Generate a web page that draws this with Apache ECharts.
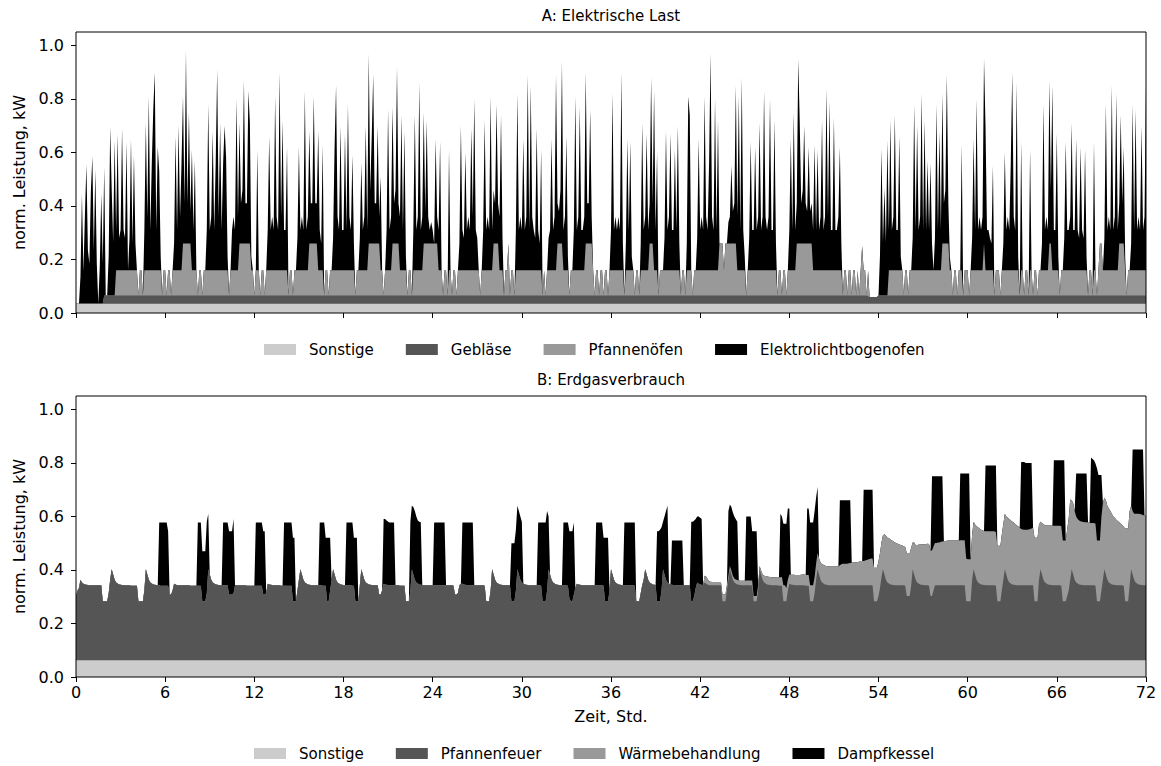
<!DOCTYPE html>
<html>
<head>
<meta charset="utf-8">
<title>Elektrische Last und Erdgasverbrauch</title>
<script src="https://cdn.jsdelivr.net/npm/echarts@6.0.0/dist/echarts.min.js"></script>
<style>
  html, body { margin: 0; padding: 0; background: #fff; }
  #chart { width: 1161px; height: 766px; }
</style>
</head>
<body>
<div id="chart"></div>
<script>
// Zeitraster: 0 bis 72 Std., Schrittweite 0,1 Std. (eine Zeile = eine Stunde)
var dt = 0.1
var xTicks = [0, 6, 12, 18, 24, 30, 36, 42, 48, 54, 60, 66, 72]
var yTicks = [0, 0.2, 0.4, 0.6, 0.8, 1.0]

// ---- A: Elektrische Last (Anteile, norm. kW) ----
var sonstigeA = 0.035
var geblaeseA = [
0,0,0,0,0,0,0,0,0,0,
0,0,0,0,0,0,0,0,0,0.03,
0.03,0.03,0.03,0.03,0.03,0.03,0.03,0.03,0.03,0.03,
0.03,0.03,0.03,0.03,0.03,0.03,0.03,0.03,0.03,0.03,
0.03,0.03,0.03,0.03,0.03,0.03,0.03,0.03,0.03,0.03,
0.03,0.03,0.03,0.03,0.03,0.03,0.03,0.03,0.03,0.03,
0.03,0.03,0.03,0.03,0.03,0.03,0.03,0.03,0.03,0.03,
0.03,0.03,0.03,0.03,0.03,0.03,0.03,0.03,0.03,0.03,
0.03,0.03,0.03,0.03,0.03,0.03,0.03,0.03,0.03,0.03,
0.03,0.03,0.03,0.03,0.03,0.03,0.03,0.03,0.03,0.03,
0.03,0.03,0.03,0.03,0.03,0.03,0.03,0.03,0.03,0.03,
0.03,0.03,0.03,0.03,0.03,0.03,0.03,0.03,0.03,0.03,
0.03,0.03,0.03,0.03,0.03,0.03,0.03,0.03,0.03,0.03,
0.03,0.03,0.03,0.03,0.03,0.03,0.03,0.03,0.03,0.03,
0.03,0.03,0.03,0.03,0.03,0.03,0.03,0.03,0.03,0.03,
0.03,0.03,0.03,0.03,0.03,0.03,0.03,0.03,0.03,0.03,
0.03,0.03,0.03,0.03,0.03,0.03,0.03,0.03,0.03,0.03,
0.03,0.03,0.03,0.03,0.03,0.03,0.03,0.03,0.03,0.03,
0.03,0.03,0.03,0.03,0.03,0.03,0.03,0.03,0.03,0.03,
0.03,0.03,0.03,0.03,0.03,0.03,0.03,0.03,0.03,0.03,
0.03,0.03,0.03,0.03,0.03,0.03,0.03,0.03,0.03,0.03,
0.03,0.03,0.03,0.03,0.03,0.03,0.03,0.03,0.03,0.03,
0.03,0.03,0.03,0.03,0.03,0.03,0.03,0.03,0.03,0.03,
0.03,0.03,0.03,0.03,0.03,0.03,0.03,0.03,0.03,0.03,
0.03,0.03,0.03,0.03,0.03,0.03,0.03,0.03,0.03,0.03,
0.03,0.03,0.03,0.03,0.03,0.03,0.03,0.03,0.03,0.03,
0.03,0.03,0.03,0.03,0.03,0.03,0.03,0.03,0.03,0.03,
0.03,0.03,0.03,0.03,0.03,0.03,0.03,0.03,0.03,0.03,
0.03,0.03,0.03,0.03,0.03,0.03,0.03,0.03,0.03,0.03,
0.03,0.03,0.03,0.03,0.03,0.03,0.03,0.03,0.03,0.03,
0.03,0.03,0.03,0.03,0.03,0.03,0.03,0.03,0.03,0.03,
0.03,0.03,0.03,0.03,0.03,0.03,0.03,0.03,0.03,0.03,
0.03,0.03,0.03,0.03,0.03,0.03,0.03,0.03,0.03,0.03,
0.03,0.03,0.03,0.03,0.03,0.03,0.03,0.03,0.03,0.03,
0.03,0.03,0.03,0.03,0.03,0.03,0.03,0.03,0.03,0.03,
0.03,0.03,0.03,0.03,0.03,0.03,0.03,0.03,0.03,0.03,
0.03,0.03,0.03,0.03,0.03,0.03,0.03,0.03,0.03,0.03,
0.03,0.03,0.03,0.03,0.03,0.03,0.03,0.03,0.03,0.03,
0.03,0.03,0.03,0.03,0.03,0.03,0.03,0.03,0.03,0.03,
0.03,0.03,0.03,0.03,0.03,0.03,0.03,0.03,0.03,0.03,
0.03,0.03,0.03,0.03,0.03,0.03,0.03,0.03,0.03,0.03,
0.03,0.03,0.03,0.03,0.03,0.03,0.03,0.03,0.03,0.03,
0.03,0.03,0.03,0.03,0.03,0.03,0.03,0.03,0.03,0.03,
0.03,0.03,0.03,0.03,0.03,0.03,0.03,0.03,0.03,0.03,
0.03,0.03,0.03,0.03,0.03,0.03,0.03,0.03,0.03,0.03,
0.03,0.03,0.03,0.03,0.03,0.03,0.03,0.03,0.03,0.03,
0.03,0.03,0.03,0.03,0.03,0.03,0.03,0.03,0.03,0.03,
0.03,0.03,0.03,0.03,0.03,0.03,0.03,0.03,0.03,0.03,
0.03,0.03,0.03,0.03,0.03,0.03,0.03,0.03,0.03,0.03,
0.03,0.03,0.03,0.03,0.03,0.03,0.03,0.03,0.03,0.03,
0.03,0.03,0.03,0.03,0.03,0.03,0.03,0.03,0.03,0.03,
0.03,0.03,0.03,0.03,0.03,0.03,0.03,0.03,0.03,0.03,
0.03,0.03,0.03,0.03,0.03,0.03,0.03,0.03,0.03,0.03,
0.03,0.03,0.03,0.028,0.025,0.025,0.025,0.025,0.025,0.025,
0.03,0.03,0.03,0.03,0.03,0.03,0.03,0.03,0.03,0.03,
0.03,0.03,0.03,0.03,0.03,0.03,0.03,0.03,0.03,0.03,
0.03,0.03,0.03,0.03,0.03,0.03,0.03,0.03,0.03,0.03,
0.03,0.03,0.03,0.03,0.03,0.03,0.03,0.03,0.03,0.03,
0.03,0.03,0.03,0.03,0.03,0.03,0.03,0.03,0.03,0.03,
0.03,0.03,0.03,0.03,0.03,0.03,0.03,0.03,0.03,0.03,
0.03,0.03,0.03,0.03,0.03,0.03,0.03,0.03,0.03,0.03,
0.03,0.03,0.03,0.03,0.03,0.03,0.03,0.03,0.03,0.03,
0.03,0.03,0.03,0.03,0.03,0.03,0.03,0.03,0.03,0.03,
0.03,0.03,0.03,0.03,0.03,0.03,0.03,0.03,0.03,0.03,
0.03,0.03,0.03,0.03,0.03,0.03,0.03,0.03,0.03,0.03,
0.03,0.03,0.03,0.03,0.03,0.03,0.03,0.03,0.03,0.03,
0.03,0.03,0.03,0.03,0.03,0.03,0.03,0.03,0.03,0.03,
0.03,0.03,0.03,0.03,0.03,0.03,0.03,0.03,0.03,0.03,
0.03,0.03,0.03,0.03,0.03,0.03,0.03,0.03,0.03,0.03,
0.03,0.03,0.03,0.03,0.03,0.03,0.03,0.03,0.03,0.03,
0.03,0.03,0.03,0.03,0.03,0.03,0.03,0.03,0.03,0.03,
0.03,0.03,0.03,0.03,0.03,0.03,0.03,0.03,0.03,0.03,
0.03
]
var pfannenofenA = [
0,0,0,0,0,0,0,0,0,0,
0,0,0,0,0,0,0,0,0,0,
0,0,0,0,0,0,0,0.095,0.095,0.095,
0.095,0.095,0.095,0.095,0.095,0.095,0.095,0.095,0.095,0.095,
0.095,0.095,0,0.095,0.095,0,0.095,0.095,0.095,0.095,
0.095,0.095,0.095,0.095,0.095,0.095,0.095,0.095,0,0.095,
0.095,0,0.095,0.095,0,0.095,0.095,0.095,0.095,0.095,
0.095,0.095,0.195,0.195,0.195,0.195,0.195,0.195,0.095,0.095,
0.095,0.095,0,0.095,0.095,0,0.095,0.095,0.095,0.095,
0.095,0.095,0.095,0.095,0.095,0.095,0.095,0.095,0.095,0.095,
0.095,0.095,0.095,0,0.095,0.095,0.095,0.095,0.095,0.095,
0.195,0.195,0.195,0.195,0.195,0.195,0.195,0.195,0.095,0.095,
0,0.095,0.095,0.095,0,0.095,0.095,0,0.095,0.095,
0.095,0.095,0.095,0.095,0.095,0.095,0.095,0.095,0.095,0.095,
0.095,0.095,0.095,0,0.095,0.095,0,0.095,0.095,0.095,
0.095,0.095,0.095,0.095,0.095,0.095,0.095,0.195,0.195,0.195,
0.195,0.195,0.195,0.095,0.095,0.095,0.095,0,0.095,0.095,
0,0.095,0.095,0.095,0.095,0.095,0.095,0.095,0.095,0.095,
0.095,0.095,0.095,0.095,0.095,0.095,0.095,0.095,0,0.095,
0.095,0.095,0.095,0.095,0.095,0.095,0.095,0.195,0.195,0.195,
0.195,0.195,0.195,0.195,0.195,0.095,0.095,0,0.095,0.095,
0.095,0.095,0.095,0.195,0.195,0.195,0.195,0.195,0.095,0.095,
0.095,0.095,0.095,0,0.095,0.095,0,0.095,0.095,0.095,
0.095,0.095,0.095,0.095,0.195,0.195,0.195,0.195,0.195,0.195,
0.195,0.195,0.195,0.195,0.095,0.095,0.095,0,0.095,0.095,
0,0.095,0.095,0,0.095,0.095,0,0.095,0.095,0.095,
0.095,0.095,0.095,0.095,0.095,0.095,0.095,0.095,0.095,0.095,
0.095,0.095,0,0.095,0.095,0.095,0.095,0.095,0.095,0.095,
0.095,0.195,0.195,0.195,0.195,0.095,0.095,0.095,0,0.095,
0.095,0.195,0,0.095,0.095,0,0.095,0.095,0.095,0.095,
0.095,0.095,0.095,0.095,0.095,0.095,0.095,0.095,0.095,0.095,
0.095,0.095,0.095,0.095,0,0.095,0,0.095,0.095,0.095,
0.095,0.095,0.095,0.095,0.195,0.195,0.195,0.195,0.095,0.095,
0.095,0.095,0,0.095,0.095,0.095,0.095,0.095,0.095,0.095,
0.095,0.095,0.095,0.195,0.195,0.195,0.195,0.195,0.095,0,
0.095,0.095,0,0.095,0.095,0,0.095,0.095,0,0.095,
0.095,0.095,0.095,0.095,0.095,0.095,0.095,0.095,0.095,0,
0.095,0.095,0.095,0.095,0.095,0.095,0,0.095,0.095,0,
0.095,0.095,0.095,0.095,0.095,0.095,0.195,0.195,0.195,0.095,
0.095,0.095,0,0.095,0.095,0.095,0.095,0.095,0.095,0.095,
0.095,0.095,0.095,0.095,0.095,0.095,0.095,0,0.095,0.095,
0,0.095,0.095,0.095,0.095,0,0.095,0.095,0.095,0.095,
0.095,0.095,0.095,0.095,0.095,0.095,0.095,0.095,0.095,0.095,
0.095,0.095,0.095,0.195,0.195,0.195,0.095,0.195,0.195,0.195,
0.195,0.195,0.195,0.195,0.195,0.095,0.095,0.095,0.095,0.095,
0.095,0,0.095,0.095,0.095,0.095,0.095,0.095,0.095,0.095,
0.095,0.095,0.095,0.095,0.095,0.095,0.095,0.095,0.095,0.095,
0.095,0.095,0,0.095,0.095,0,0.095,0.095,0,0.095,
0.095,0.095,0.095,0.095,0.095,0.195,0.195,0.195,0.195,0.195,
0.195,0.195,0.195,0.195,0.195,0.195,0.095,0.095,0.095,0.095,
0.095,0.095,0.095,0.095,0.095,0.095,0.095,0.095,0.095,0.095,
0.095,0.095,0.095,0.095,0.095,0.095,0,0.095,0.095,0,
0.095,0.095,0,0.095,0.095,0,0.095,0,0.095,0.185,
0.095,0.095,0,0.095,0,0,0,0,0,0,
0,0,0,0,0,0,0,0.095,0.095,0.095,
0.095,0.095,0.095,0.095,0.095,0.095,0.095,0,0.095,0.095,
0,0.095,0.095,0.095,0.095,0.095,0.095,0.095,0.095,0.095,
0.095,0.095,0.095,0.095,0.095,0.095,0.095,0.095,0.095,0.095,
0.095,0.095,0.095,0.195,0.195,0.195,0.195,0.195,0.095,0.095,
0,0.095,0.095,0,0.095,0.095,0.095,0,0.095,0.095,
0.095,0,0.095,0.095,0.095,0.095,0.095,0.095,0.095,0.095,
0.095,0.195,0.095,0.095,0.095,0.095,0.095,0.095,0,0.095,
0.095,0.095,0,0.095,0.095,0.095,0.095,0.095,0.095,0.095,
0.095,0.095,0.095,0.095,0.095,0,0.095,0.095,0,0.095,
0.095,0,0.095,0.095,0,0.095,0.095,0,0.095,0.095,
0.095,0.095,0.095,0.095,0.095,0.195,0.195,0.095,0.095,0.095,
0.095,0.095,0,0.095,0.095,0.095,0.095,0.095,0.095,0.095,
0.095,0.095,0.095,0.095,0.095,0.095,0.095,0.095,0.095,0.095,
0.095,0,0.095,0.095,0,0.095,0.095,0,0.095,0.195,
0.195,0.095,0.095,0.095,0.095,0.095,0.095,0.095,0.095,0.095,
0.095,0.095,0.195,0.195,0.195,0.195,0.095,0,0.095,0.095,
0.095,0.095,0.095,0.095,0.095,0.095,0.095,0.095,0.095,0.095,
0.095
]
var lichtbogenofenA = [
0,0,0,0.1,0.41,0.12,0.33,0.52,0.2,0.15,
0.42,0.55,0.2,0.5,0.15,0,0.14,0.41,0.15,0.48,
0,0,0.15,0.63,0.4,0.2,0.58,0.15,0.51,0.12,
0.15,0.53,0.15,0.12,0.48,0,0.12,0.49,0.1,0.43,
0.1,0,0,0,0,0,0.15,0.55,0.2,0.65,
0.15,0.4,0.6,0.74,0.15,0.46,0.37,0.05,0,0,
0,0,0,0,0,0,0.1,0.5,0.15,0.54,
0.2,0.4,0.55,0.15,0.72,0.15,0.49,0.12,0.45,0.15,
0.41,0,0,0,0,0,0,0,0.15,0.62,
0.15,0.2,0.52,0.15,0.4,0.75,0.2,0.55,0.15,0.4,
0.54,0.42,0.05,0,0,0.15,0.2,0.15,0.64,0.2,
0.45,0.15,0.2,0.61,0.15,0.15,0.57,0.45,0.05,0,
0,0,0.45,0,0,0,0,0,0,0.15,
0.5,0.15,0.2,0.15,0.65,0.2,0.15,0.74,0.2,0.56,
0.15,0.15,0.46,0,0,0,0,0,0,0.12,
0.46,0.15,0.2,0.15,0.67,0.15,0.2,0.42,0.15,0.15,
0.55,0.15,0.15,0.52,0.15,0.1,0.47,0,0,0,
0,0,0,0.12,0.46,0.69,0.2,0.15,0.54,0.15,
0.15,0.51,0.15,0.62,0.2,0.15,0.43,0.1,0,0,
0,0.12,0.4,0.15,0.2,0.54,0.15,0.71,0.2,0.4,
0.63,0.15,0.15,0.44,0.1,0.35,0,0,0,0.15,
0.6,0.15,0.2,0.51,0.15,0.2,0.66,0.15,0.2,0.58,
0.15,0.52,0.05,0,0,0,0,0.15,0.58,0.15,
0.2,0.7,0.15,0.2,0.49,0.12,0.46,0.1,0.05,0.08,
0.05,0,0.39,0.1,0.15,0.48,0,0,0,0,
0,0.45,0,0,0,0,0,0,0.1,0.54,
0.15,0.12,0.44,0.15,0.2,0.15,0.53,0.2,0.64,0.15,
0.12,0,0,0,0.15,0.56,0.15,0.2,0.15,0.65,
0.15,0.2,0.15,0.52,0.15,0.2,0.58,0.12,0,0,
0,0,0,0,0,0,0.15,0.66,0.15,0.2,
0.15,0.49,0.15,0.2,0.73,0.15,0.69,0.2,0.15,0.12,
0.53,0.15,0.1,0.45,0,0,0,0,0.12,0.15,
0.49,0.15,0.2,0.73,0.15,0.12,0.2,0.68,0.15,0.2,
0.5,0.05,0,0,0,0.15,0.65,0.15,0.2,0.61,
0.15,0.15,0.2,0.64,0.15,0.15,0.5,0.1,0,0,
0,0,0,0,0,0,0,0,0,0,
0.15,0.66,0.15,0.2,0.15,0.2,0.15,0.74,0.1,0,
0.1,0.49,0.15,0.48,0.05,0,0,0,0,0,
0.1,0.55,0.15,0.2,0.51,0.15,0.15,0.62,0.15,0.67,
0.15,0.44,0,0,0,0,0.12,0.52,0.15,0.2,
0.51,0.15,0.15,0.45,0.15,0.54,0.1,0,0,0,
0,0.1,0.65,0.58,0,0,0,0,0.12,0.49,
0.15,0.2,0.15,0.65,0.2,0.15,0.4,0.81,0.2,0.15,
0.64,0.15,0.56,0,0,0,0,0,0,0.08,
0.1,0.29,0.12,0.15,0.59,0.2,0.65,0.15,0.72,0.15,
0.05,0,0,0.12,0.48,0.15,0.15,0.46,0.15,0.2,
0.55,0.15,0.2,0.67,0.2,0.15,0.2,0.64,0.15,0.15,
0.56,0.1,0,0,0,0,0,0,0,0,
0.15,0.49,0.15,0.59,0.15,0.15,0.69,0.45,0.15,0.2,
0.44,0.15,0.12,0.36,0.12,0.15,0.15,0.47,0.15,0.45,
0.15,0.2,0.56,0.15,0.2,0.68,0.2,0.63,0.15,0.15,
0.57,0.15,0.15,0.2,0.46,0.1,0,0,0,0,
0,0,0,0,0,0,0,0,0,0,
0,0,0,0,0,0,0,0,0,0,
0,0.15,0.55,0.2,0.4,0.2,0.58,0.15,0.56,0.15,
0.2,0.58,0.15,0.15,0.5,0.05,0,0,0,0,
0,0,0,0.12,0.62,0.15,0.54,0.15,0.2,0.66,
0.15,0.56,0.15,0.41,0.15,0.4,0.1,0,0.12,0.62,
0.15,0.52,0.15,0.56,0.15,0.2,0.63,0.15,0.05,0,
0,0,0,0,0,0,0.47,0,0,0,
0,0,0,0.12,0.49,0.15,0.64,0.15,0.2,0.15,
0.2,0.69,0.54,0.15,0.15,0.12,0.1,0.39,0,0,
0,0,0,0,0.1,0.44,0.15,0.2,0.15,0.4,
0.74,0.2,0.15,0.7,0.05,0,0.48,0,0,0,
0,0,0.45,0,0,0,0,0,0,0,
0.1,0.62,0.15,0.2,0.15,0.61,0.2,0.69,0.15,0.15,
0.51,0.05,0,0,0,0.12,0.48,0.15,0.15,0.2,
0.55,0.15,0.15,0.49,0.15,0.12,0.46,0.15,0.12,0.45,
0.05,0,0,0,0,0.48,0,0,0,0,
0,0,0.12,0.62,0.15,0.2,0.15,0.69,0.15,0.2,
0.66,0.15,0.15,0.48,0.15,0.36,0.05,0,0,0,
0.1,0.62,0.15,0.6,0.15,0.2,0.15,0.54,0.15,0.2,
0.69
]

// ---- B: Erdgasverbrauch (Anteile, norm. kW) ----
var sonstigeB = 0.063
var pfannenfeuerB = [
0.24,0.26,0.27,0.3,0.29,0.285,0.283,0.282,0.281,0.28,
0.28,0.28,0.28,0.28,0.28,0.28,0.28,0.28,0.22,0.22,
0.22,0.22,0.25,0.3,0.34,0.32,0.3,0.29,0.286,0.283,
0.282,0.281,0.28,0.28,0.28,0.28,0.28,0.278,0.278,0.278,
0.278,0.278,0.22,0.22,0.22,0.22,0.26,0.34,0.32,0.3,
0.29,0.286,0.283,0.282,0.281,0.28,0.28,0.278,0.278,0.278,
0.278,0.278,0.278,0.245,0.245,0.26,0.285,0.283,0.28,0.28,
0.28,0.28,0.28,0.28,0.28,0.28,0.28,0.278,0.278,0.278,
0.278,0.278,0.278,0.278,0.278,0.22,0.22,0.22,0.25,0.34,
0.32,0.3,0.29,0.286,0.283,0.282,0.281,0.28,0.28,0.28,
0.28,0.28,0.28,0.245,0.245,0.245,0.25,0.28,0.28,0.28,
0.28,0.28,0.28,0.28,0.28,0.278,0.278,0.278,0.278,0.278,
0.278,0.278,0.278,0.278,0.278,0.278,0.245,0.245,0.25,0.285,
0.283,0.282,0.281,0.28,0.28,0.28,0.28,0.28,0.278,0.278,
0.278,0.278,0.278,0.278,0.278,0.278,0.22,0.22,0.22,0.26,
0.3,0.34,0.32,0.3,0.29,0.286,0.283,0.282,0.281,0.28,
0.28,0.28,0.28,0.28,0.28,0.28,0.278,0.278,0.278,0.22,
0.22,0.26,0.3,0.34,0.32,0.3,0.29,0.286,0.283,0.282,
0.281,0.28,0.28,0.28,0.28,0.28,0.278,0.278,0.22,0.22,
0.22,0.28,0.34,0.32,0.3,0.29,0.286,0.283,0.282,0.281,
0.28,0.28,0.28,0.28,0.245,0.245,0.26,0.285,0.283,0.282,
0.281,0.28,0.28,0.28,0.28,0.28,0.28,0.28,0.278,0.278,
0.278,0.278,0.22,0.22,0.22,0.26,0.34,0.32,0.3,0.29,
0.286,0.283,0.282,0.281,0.28,0.28,0.28,0.28,0.28,0.28,
0.28,0.28,0.28,0.28,0.28,0.28,0.28,0.28,0.28,0.28,
0.28,0.28,0.28,0.28,0.278,0.245,0.245,0.25,0.28,0.285,
0.285,0.283,0.282,0.28,0.28,0.28,0.28,0.28,0.28,0.28,
0.28,0.28,0.28,0.28,0.28,0.278,0.22,0.22,0.22,0.26,
0.34,0.32,0.3,0.29,0.286,0.283,0.282,0.281,0.28,0.28,
0.28,0.28,0.28,0.22,0.22,0.22,0.26,0.34,0.32,0.3,
0.29,0.286,0.283,0.282,0.281,0.28,0.28,0.28,0.28,0.28,
0.28,0.28,0.28,0.278,0.22,0.22,0.22,0.26,0.34,0.32,
0.3,0.29,0.286,0.283,0.282,0.281,0.28,0.28,0.28,0.28,
0.28,0.278,0.23,0.22,0.22,0.245,0.27,0.285,0.283,0.282,
0.281,0.28,0.28,0.28,0.28,0.28,0.28,0.28,0.28,0.28,
0.28,0.28,0.28,0.28,0.28,0.278,0.22,0.22,0.22,0.26,
0.34,0.32,0.3,0.29,0.286,0.283,0.282,0.281,0.28,0.28,
0.28,0.28,0.28,0.28,0.28,0.28,0.278,0.22,0.22,0.22,
0.25,0.28,0.3,0.34,0.32,0.3,0.29,0.286,0.283,0.282,
0.281,0.22,0.22,0.22,0.26,0.34,0.32,0.3,0.29,0.286,
0.283,0.282,0.281,0.28,0.28,0.28,0.28,0.28,0.28,0.28,
0.28,0.28,0.28,0.28,0.22,0.22,0.24,0.27,0.29,0.285,
0.283,0.282,0.281,0.29,0.285,0.283,0.28,0.28,0.28,0.28,
0.28,0.28,0.28,0.28,0.28,0.22,0.22,0.22,0.26,0.3,
0.34,0.32,0.3,0.29,0.286,0.283,0.282,0.281,0.28,0.28,
0.28,0.28,0.28,0.28,0.28,0.278,0.22,0.22,0.22,0.26,
0.34,0.32,0.3,0.29,0.286,0.283,0.282,0.281,0.28,0.28,
0.28,0.28,0.28,0.278,0.278,0.278,0.22,0.22,0.22,0.26,
0.285,0.283,0.282,0.281,0.28,0.28,0.28,0.28,0.28,0.28,
0.28,0.278,0.278,0.278,0.22,0.22,0.22,0.25,0.3,0.34,
0.32,0.3,0.29,0.286,0.283,0.282,0.281,0.28,0.28,0.28,
0.28,0.28,0.28,0.28,0.28,0.28,0.28,0.28,0.28,0.28,
0.28,0.28,0.28,0.28,0.28,0.28,0.28,0.28,0.28,0.28,
0.28,0.28,0.28,0.28,0.28,0.28,0.28,0.22,0.22,0.22,
0.24,0.27,0.31,0.34,0.32,0.3,0.29,0.286,0.283,0.282,
0.281,0.28,0.28,0.28,0.28,0.28,0.28,0.28,0.278,0.24,
0.24,0.24,0.28,0.34,0.32,0.3,0.29,0.286,0.283,0.282,
0.281,0.28,0.28,0.28,0.278,0.24,0.24,0.26,0.28,0.28,
0.28,0.28,0.28,0.28,0.28,0.28,0.28,0.28,0.28,0.28,
0.28,0.28,0.28,0.28,0.28,0.28,0.28,0.28,0.28,0.22,
0.22,0.22,0.22,0.3,0.34,0.32,0.3,0.29,0.286,0.283,
0.282,0.281,0.28,0.28,0.28,0.28,0.28,0.28,0.28,0.278,
0.22,0.22,0.22,0.26,0.3,0.34,0.32,0.3,0.29,0.286,
0.283,0.282,0.281,0.28,0.28,0.28,0.28,0.28,0.28,0.28,
0.28,0.28,0.28,0.28,0.28,0.22,0.22,0.22,0.3,0.34,
0.32,0.3,0.29,0.286,0.283,0.282,0.281,0.28,0.28,0.28,
0.28,0.28,0.28,0.278,0.22,0.22,0.22,0.24,0.26,0.3,
0.34,0.32,0.3,0.29,0.286,0.283,0.282,0.281,0.28,0.28,
0.28,0.28,0.28,0.28,0.28,0.28,0.278,0.22,0.22,0.22,
0.26,0.3,0.34,0.32,0.3,0.29,0.286,0.283,0.282,0.281,
0.28,0.28,0.28,0.28,0.28,0.278,0.22,0.22,0.22,0.28,
0.34,0.32,0.3,0.29,0.286,0.283,0.282,0.281,0.28,0.28,
0.28
]
var waermebehandlungB = [
0,0,0,0,0,0,0,0,0,0,
0,0,0,0,0,0,0,0,0,0,
0,0,0,0,0,0,0,0,0,0,
0,0,0,0,0,0,0,0,0,0,
0,0,0,0,0,0,0,0,0,0,
0,0,0,0,0,0,0,0,0,0,
0,0,0,0,0,0,0,0,0,0,
0,0,0,0,0,0,0,0,0,0,
0,0,0,0,0,0,0,0,0,0,
0,0,0,0,0,0,0,0,0,0,
0,0,0,0,0,0,0,0,0,0,
0,0,0,0,0,0,0,0,0,0,
0,0,0,0,0,0,0,0,0,0,
0,0,0,0,0,0,0,0,0,0,
0,0,0,0,0,0,0,0,0,0,
0,0,0,0,0,0,0,0,0,0,
0,0,0,0,0,0,0,0,0,0,
0,0,0,0,0,0,0,0,0,0,
0,0,0,0,0,0,0,0,0,0,
0,0,0,0,0,0,0,0,0,0,
0,0,0,0,0,0,0,0,0,0,
0,0,0,0,0,0,0,0,0,0,
0,0,0,0,0,0,0,0,0,0,
0,0,0,0,0,0,0,0,0,0,
0,0,0,0,0,0,0,0,0,0,
0,0,0,0,0,0,0,0,0,0,
0,0,0,0,0,0,0,0,0,0,
0,0,0,0,0,0,0,0,0,0,
0,0,0,0,0,0,0,0,0,0,
0,0,0,0,0,0,0,0,0,0,
0,0,0,0,0,0,0,0,0,0,
0,0,0,0,0,0,0,0,0,0,
0,0,0,0,0,0,0,0,0,0,
0,0,0,0,0,0,0,0,0,0,
0,0,0,0,0,0,0,0,0,0,
0,0,0,0,0,0,0,0,0,0,
0,0,0,0,0,0,0,0,0,0,
0,0,0,0,0,0,0,0,0,0,
0,0,0,0,0,0,0,0,0,0,
0,0,0,0,0,0,0,0,0,0,
0,0,0,0,0,0,0,0,0,0,
0,0,0,0,0,0,0,0,0,0,
0,0,0,0.025,0.028,0.02,0.015,0.013,0.012,0.012,
0.012,0.012,0.012,0.012,0.012,0.025,0.025,0.025,0.02,0.015,
0.012,0.015,0.015,0.015,0.015,0.016,0.016,0.016,0.017,0.017,
0.017,0.018,0.018,0.018,0.018,0.02,0.02,0.02,0.02,0.02,
0.012,0.015,0.02,0.025,0.028,0.03,0.03,0.03,0.03,0.03,
0.03,0.03,0.031,0.032,0.032,0.033,0.06,0.06,0.05,0.04,
0.035,0.036,0.037,0.038,0.038,0.038,0.038,0.038,0.039,0.04,
0.04,0.04,0.04,0.04,0.06,0.06,0.06,0.06,0.06,0.06,
0.06,0.065,0.068,0.07,0.07,0.07,0.07,0.07,0.07,0.07,
0.07,0.07,0.07,0.07,0.075,0.078,0.08,0.08,0.08,0.08,
0.082,0.083,0.084,0.085,0.085,0.086,0.087,0.088,0.09,0.09,
0.09,0.092,0.094,0.096,0.098,0.1,0.1,0.125,0.125,0.125,
0.13,0.13,0.13,0.127,0.15,0.165,0.167,0.17,0.168,0.165,
0.163,0.16,0.158,0.155,0.152,0.15,0.148,0.146,0.145,0.16,
0.16,0.16,0.14,0.1,0.12,0.13,0.14,0.145,0.15,0.152,
0.152,0.153,0.154,0.155,0.156,0.17,0.17,0.165,0.158,0.158,
0.16,0.16,0.162,0.163,0.164,0.165,0.166,0.167,0.167,0.167,
0.167,0.167,0.167,0.167,0.167,0.168,0.168,0.168,0.168,0.16,
0.157,0.157,0.157,0.17,0.177,0.187,0.2,0.207,0.206,0.204,
0.203,0.202,0.202,0.202,0.202,0.202,0.202,0.202,0.202,0.2,
0.207,0.207,0.207,0.21,0.21,0.207,0.217,0.232,0.237,0.236,
0.235,0.232,0.228,0.224,0.22,0.215,0.21,0.208,0.207,0.207,
0.207,0.208,0.21,0.212,0.215,0.237,0.237,0.237,0.207,0.177,
0.192,0.207,0.215,0.217,0.22,0.221,0.222,0.222,0.222,0.222,
0.222,0.222,0.222,0.222,0.227,0.227,0.227,0.25,0.27,0.3,
0.257,0.267,0.257,0.247,0.241,0.239,0.237,0.236,0.236,0.235,
0.235,0.234,0.233,0.232,0.232,0.232,0.232,0.227,0.227,0.227,
0.277,0.287,0.267,0.277,0.277,0.277,0.271,0.264,0.255,0.251,
0.245,0.24,0.235,0.23,0.225,0.22,0.272,0.272,0.272,0.277,
0.237,0.237,0.247,0.257,0.261,0.264,0.264,0.263,0.262,0.26,
0.26
]
var dampfkesselB = [
0,0,0,0,0,0,0,0,0,0,
0,0,0,0,0,0,0,0,0,0,
0,0,0,0,0,0,0,0,0,0,
0,0,0,0,0,0,0,0,0,0,
0,0,0,0,0,0,0,0,0,0,
0,0,0,0,0,0,0.234,0.236,0.236,0.236,
0.236,0.236,0.204,0,0,0,0,0,0,0,
0,0,0,0,0,0,0,0,0,0,
0,0,0.236,0.236,0.236,0.187,0.187,0.187,0.267,0.207,
0,0,0,0,0,0,0,0,0,0.234,
0.234,0.234,0.234,0.237,0.237,0.237,0.277,0,0,0,
0,0,0,0,0,0,0,0,0,0,
0,0.236,0.236,0.236,0.236,0.236,0.237,0.237,0,0,
0,0,0,0,0,0,0,0,0,0,
0.236,0.236,0.236,0.236,0.236,0.236,0.237,0.237,0,0,
0,0,0,0,0,0,0,0,0,0,
0,0,0,0,0.234,0.234,0.236,0.236,0.179,0.237,
0.237,0.197,0,0,0,0,0,0,0,0,
0,0,0.234,0.234,0.234,0.234,0.236,0.179,0.237,0.237,
0,0,0,0,0,0,0,0,0,0,
0,0,0,0,0,0,0,0.242,0.244,0.24,
0.236,0.234,0.234,0.234,0.234,0,0,0,0,0,
0,0,0,0,0,0.257,0.237,0.252,0.257,0.247,
0.236,0.234,0.233,0,0,0,0,0,0,0,
0,0.234,0.234,0.234,0.234,0.234,0.234,0.234,0.234,0,
0,0,0,0,0,0,0,0,0,0,
0.229,0.231,0.232,0.234,0.234,0.234,0.234,0.234,0,0,
0,0,0,0,0,0,0,0,0,0,
0,0,0,0,0,0,0,0,0,0,
0,0,0,0.217,0.217,0.217,0.227,0.237,0.237,0.237,
0.227,0,0,0,0,0,0,0,0,0,
0,0.234,0.234,0.236,0.294,0.294,0.294,0.297,0.197,0,
0,0,0,0,0,0,0,0,0.234,0.234,
0.234,0.236,0.252,0.262,0.262,0.269,0,0,0,0,
0,0,0,0,0,0,0,0,0,0,
0.234,0.234,0.234,0.234,0.234,0.179,0.237,0.237,0.237,0,
0,0,0,0,0,0,0,0,0,0.234,
0.234,0.234,0.234,0.234,0.234,0.234,0.236,0,0,0,
0,0,0,0,0,0,0,0,0,0,
0,0.262,0.262,0.267,0.237,0.177,0.217,0.257,0.287,0,
0,0.165,0.166,0.167,0.167,0.167,0.167,0.167,0.167,0,
0,0,0,0,0.297,0.297,0.282,0.257,0.247,0.252,
0.249,0.245,0,0,0,0,0,0,0,0,
0,0,0,0,0,0,0,0,0,0.242,
0.23,0.237,0.237,0.232,0.225,0.218,0,0,0,0,
0,0.239,0.239,0.239,0.239,0.184,0.242,0.242,0.242,0,
0,0,0,0,0,0,0,0,0,0,
0,0,0,0,0.237,0.226,0.23,0.23,0.24,0.267,
0.247,0,0,0,0,0,0,0,0,0,
0,0,0.249,0.249,0.234,0.234,0.234,0.247,0.247,0.247,
0,0,0,0,0,0,0,0,0,0,
0,0,0,0,0.242,0.239,0.237,0.237,0.237,0.237,
0.235,0.234,0,0,0,0,0,0,0,0,
0.267,0.265,0.263,0.261,0.259,0.257,0.257,0,0,0,
0,0,0,0,0,0,0,0,0,0,
0,0,0,0,0,0,0,0,0,0,
0,0,0,0,0,0,0,0,0,0,
0,0,0,0,0,0,0.277,0.262,0.249,0.249,
0.247,0.247,0.245,0.244,0,0,0,0,0,0,
0,0,0,0,0,0.249,0.249,0.249,0.249,0.317,
0.32,0.32,0,0,0,0,0,0,0,0,
0,0,0.245,0.245,0.245,0.245,0.245,0.245,0.245,0.249,
0,0,0,0,0,0,0,0,0,0,
0,0,0,0,0,0,0.25,0.252,0.253,0.25,
0.25,0.249,0.247,0.245,0,0,0,0,0,0,
0,0,0,0,0,0,0,0,0.245,0.245,
0.245,0.245,0.245,0.247,0.3,0.3,0,0,0,0,
0,0,0,0.16,0.17,0.175,0.178,0.18,0.181,0.182,
0.182,0,0,0.245,0.24,0.235,0.225,0.27,0.245,0.245,
0.155,0,0,0,0,0,0,0,0,0,
0,0,0,0,0,0,0,0,0,0,
0,0.23,0.24,0.24,0.24,0.24,0.241,0.243,0.245,0,
0
]

var FONT = 'DejaVu Sans'

// Schichten aufsummieren: jede Flaeche wird von 0 bis zu ihrer Oberkante gezeichnet,
// die oberste zuerst, damit die unteren darueber liegen
function stackTops (base, parts) {
  var sum = parts[0].map(function () { return base })
  var tops = [sum.slice()]
  parts.forEach(function (p) {
    sum = sum.map(function (v, i) { return v + p[i] })
    tops.push(sum.slice())
  })
  return tops
}

function areaSeries (name, color, top, idx) {
  return {
    name: name,
    type: 'line',
    xAxisIndex: idx,
    yAxisIndex: idx,
    data: top.map(function (v, i) { return [i * dt, v] }),
    symbol: 'none',
    showSymbol: false,
    silent: true,
    color: color,
    itemStyle: { color: color },
    lineStyle: { width: 0, color: color },
    areaStyle: { color: color, opacity: 1 }
  }
}

var topsA = stackTops(sonstigeA, [geblaeseA, pfannenofenA, lichtbogenofenA])
var topsB = stackTops(sonstigeB, [pfannenfeuerB, waermebehandlungB, dampfkesselB])

var colors = ['#cccccc', '#555555', '#999999', '#000000']
var namesA = ['Sonstige', 'Gebläse', 'Pfannenöfen', 'Elektrolichtbogenofen']
var namesB = ['Sonstige', 'Pfannenfeuer', 'Wärmebehandlung', 'Dampfkessel']

var series = []
for (var k = 3; k >= 0; k--) series.push(areaSeries(namesA[k], colors[k], topsA[k], 0))
for (var k = 3; k >= 0; k--) {
  var s = areaSeries(namesB[k], colors[k], topsB[k], 1)
  s.id = 'B' + k
  series.push(s)
}

function xAxis (idx) {
  return {
    type: 'value', gridIndex: idx, min: 0, max: 72, interval: 6, z: 3,
    axisLine: { show: false },
    splitLine: { show: false },
    axisTick: { show: true, length: 5, customValues: xTicks, lineStyle: { color: '#000', width: 1 } },
    axisLabel: { show: idx === 1, customValues: xTicks, margin: 7, fontSize: 16, color: '#000', fontFamily: FONT },
    name: idx === 1 ? 'Zeit, Std.' : '',
    nameLocation: 'middle',
    nameGap: 31,
    nameTextStyle: { fontSize: 16, color: '#000', fontFamily: FONT }
  }
}

function yAxis (idx) {
  return {
    type: 'value', gridIndex: idx, min: 0, max: 1.05, z: 3,
    axisLine: { show: false },
    splitLine: { show: false },
    axisTick: { show: true, length: 5, customValues: yTicks, lineStyle: { color: '#000', width: 1 } },
    axisLabel: {
      customValues: yTicks, margin: 12, fontSize: 16, color: '#000', fontFamily: FONT,
      formatter: function (v) { return v.toFixed(1) }
    },
    name: 'norm. Leistung, kW',
    nameLocation: 'middle',
    nameRotate: 90,
    nameGap: 48,
    nameTextStyle: { fontSize: 16, color: '#000', fontFamily: FONT }
  }
}

function legend (names, left, top) {
  return {
    data: names,
    left: left,
    top: top,
    padding: 0,
    icon: 'rect',
    itemWidth: 32,
    itemHeight: 11,
    itemGap: 32,
    selectedMode: false,
    itemStyle: { opacity: 1, borderWidth: 0 },
    textStyle: { fontSize: 15, color: '#000', fontFamily: FONT, padding: [0, 0, 0, 8] }
  }
}

var chart = echarts.init(document.getElementById('chart'), null, { renderer: 'svg' })
chart.setOption({
  animation: false,
  backgroundColor: '#fff',
  grid: [
    { left: 76, top: 32, width: 1070, height: 281, show: true, borderColor: '#000', borderWidth: 1, backgroundColor: 'transparent', z: 5 },
    { left: 76, top: 396, width: 1070, height: 281, show: true, borderColor: '#000', borderWidth: 1, backgroundColor: 'transparent', z: 5 }
  ],
  xAxis: [xAxis(0), xAxis(1)],
  yAxis: [yAxis(0), yAxis(1)],
  legend: [legend(namesA, 264, 342), legend(namesB, 254, 746)],
  graphic: [
    { type: 'text', x: 611, y: 16, style: { text: 'A: Elektrische Last', align: 'center', verticalAlign: 'middle', fontSize: 15, fontFamily: FONT, fill: '#000' } },
    { type: 'text', x: 611, y: 380, style: { text: 'B: Erdgasverbrauch', align: 'center', verticalAlign: 'middle', fontSize: 15, fontFamily: FONT, fill: '#000' } }
  ],
  series: series
})
</script>
</body>
</html>
